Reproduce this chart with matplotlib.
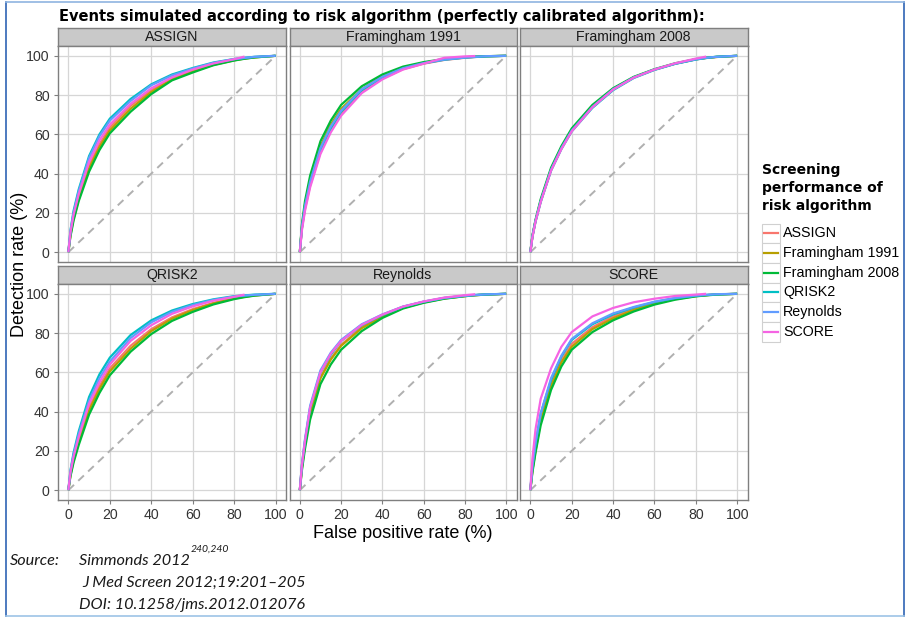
import numpy as np
import matplotlib
matplotlib.use('Agg')
import matplotlib.pyplot as plt
from matplotlib.lines import Line2D
from matplotlib.patches import Rectangle
from matplotlib import transforms

W, H = 907, 617
plt.rcParams['font.family'] = ['Liberation Sans', 'DejaVu Sans']

algorithms = ['ASSIGN', 'Framingham 1991', 'Framingham 2008', 'QRISK2', 'Reynolds', 'SCORE']
colors = ['#F8766D', '#B79F00', '#00BA38', '#00BFC4', '#619CFF', '#F564E3']
nan = np.nan

# false positive rate (%) grid shared by all curves
fpr = [0, 1, 2.5, 5, 10, 15, 20, 30, 40, 50, 60, 70, 80, 85, 90, 100]

# detection rate (%) of each algorithm (rows in legend order), one array per simulating algorithm
assign_tpr = [
    [0, 9, 18, 28, 44, 55, 63.5, 74.5, 82.5, 88.5, 92.5, 95.7, 97.9, 98.7, 99.3, 100],
    [0, 8.5, 17, 27, 42.5, 53.5, 62, 73, 81.5, 88, 92, 95.4, 97.7, 98.6, 99.2, 100],
    [0, 8, 16, 26, 41, 52, 60.5, 71.5, 80.5, 87.5, 91.5, 95.2, 97.6, 98.5, 99.2, 100],
    [0, 11, 21, 32, 49, 60, 68, 78, 85.5, 90.5, 93.8, 96.6, 98.4, 99, 99.5, 100],
    [0, 10.5, 20, 31, 48, 59, 67, 77, 85, 90, 93.5, 96.4, 98.3, 98.9, 99.5, 100],
    [0, 10, 19, 29.5, 46, 57, 65, 75.5, 83.5, 89, 93, 96.1, 98.3, 99.6, nan, nan],
]
fram1991_tpr = [
    [0, 12, 22, 34, 51, 62, 70.5, 81.5, 88.5, 93.2, 96, 97.9, 99, 99.4, 99.7, 100],
    [0, 13, 24, 37, 54, 65, 73, 83, 89.7, 94, 96.5, 98.2, 99.2, 99.5, 99.8, 100],
    [0, 14, 26, 39, 56.5, 67, 75, 84.5, 90.5, 94.5, 96.8, 98.4, 99.3, 99.6, 99.8, 100],
    [0, 12, 23, 35, 52, 63, 71.5, 82.5, 89, 93.5, 96.2, 98, 99.1, 99.4, 99.7, 100],
    [0, 12.5, 23.5, 36, 53, 64, 72, 83, 89.3, 93.7, 96.3, 98.1, 99.1, 99.5, 99.8, 100],
    [0, 11, 21, 33, 50, 61, 69.5, 81, 88, 93, 96, 99, 99.7, 99.9, nan, nan],
]
fram2008_tpr = [
    [0, 8, 16, 26, 42, 53, 62, 74, 83, 89, 93, 96, 98.2, 98.9, 99.4, 100],
    [0, 8, 16, 26, 42, 53, 62, 74, 83, 89, 93, 96, 98.2, 98.9, 99.4, 100],
    [0, 8.5, 16.5, 27, 43, 54, 63, 75, 83.5, 89.3, 93.2, 96.2, 98.3, 99, 99.5, 100],
    [0, 8, 15.5, 25.5, 41.5, 52.5, 61.5, 73.5, 82.5, 88.7, 92.8, 95.9, 98.1, 98.9, 99.5, 100],
    [0, 8, 16, 26, 42, 53, 62, 74, 83, 89, 93, 96, 98.2, 99, 99.5, 100],
    [0, 7.5, 15.5, 25.5, 41.5, 52.5, 61.5, 73.8, 82.8, 88.9, 93, 96.2, 98.6, 99.6, nan, nan],
]
qrisk2_tpr = [
    [0, 8, 16, 25.5, 42, 53, 62, 73.5, 82, 88, 92.2, 95.4, 97.8, 98.6, 99.2, 100],
    [0, 7.5, 15, 24.5, 40.5, 51.5, 60.5, 72, 81, 87.3, 91.7, 95.1, 97.6, 98.5, 99.2, 100],
    [0, 7, 14, 23, 38.5, 49.5, 58.5, 70.5, 79.5, 86.2, 90.8, 94.6, 97.3, 98.3, 99.1, 100],
    [0, 10, 19, 30, 47.5, 59, 67.5, 79, 86.5, 91.5, 94.8, 97.2, 98.8, 99.2, 99.6, 100],
    [0, 9.5, 18, 28.5, 45.5, 57, 65.5, 77.5, 85.5, 90.8, 94.3, 96.9, 98.6, 99.1, 99.5, 100],
    [0, 9, 17, 27, 44, 55, 64, 76, 84, 89.8, 93.6, 96.5, 98.5, 99.6, nan, nan],
]
reynolds_tpr = [
    [0, 11.5, 23.5, 39.5, 57.5, 67, 74, 83, 88.5, 93, 95.7, 97.7, 98.9, 99.3, 99.6, 100],
    [0, 11, 23, 39, 57, 66.5, 73.5, 82.5, 88.2, 92.8, 95.6, 97.6, 98.8, 99.3, 99.6, 100],
    [0, 10, 21, 36, 54, 64, 71.5, 81, 87.7, 92.5, 95.4, 97.5, 98.8, 99.3, 99.6, 100],
    [0, 12.5, 25, 42, 60, 69, 76, 84, 89.2, 93.4, 96, 97.9, 99, 99.4, 99.7, 100],
    [0, 13, 26, 43, 61, 70, 76.5, 84.5, 89.5, 93.5, 96, 97.9, 99, 99.4, 99.7, 100],
    [0, 12.5, 25, 42, 60, 69.5, 76, 84.2, 89.4, 93.5, 96.1, 98.1, 99.3, 99.8, nan, nan],
]
score_tpr = [
    [0, 10, 21, 36, 54, 66, 74.5, 83, 88.5, 92.3, 95.3, 97.5, 98.9, 99.3, 99.7, 100],
    [0, 10, 20, 35, 53, 65, 73, 82, 87.5, 91.8, 95, 97.3, 98.8, 99.3, 99.7, 100],
    [0, 9, 19, 33, 51, 63, 71.5, 80.5, 86.5, 91, 94.5, 97, 98.7, 99.2, 99.6, 100],
    [0, 12, 24, 39, 56, 68, 76.5, 84.5, 89.5, 93, 95.8, 97.8, 99, 99.4, 99.7, 100],
    [0, 12, 24, 39, 57, 68.5, 77, 85, 90, 93.3, 96, 97.9, 99.1, 99.5, 99.8, 100],
    [0, 16, 31, 46.5, 62, 73, 80.5, 88.5, 92.8, 95.7, 97.5, 98.9, 99.6, 100, nan, nan],
]
panel_data = [assign_tpr, fram1991_tpr, fram2008_tpr, qrisk2_tpr, reynolds_tpr, score_tpr]
ticks = [0, 20, 40, 60, 80, 100]

col_x = [(58, 286), (289.5, 516.5), (520, 747.5)]
row_strip = [(27.5, 46), (266, 284)]
row_panel = [(46, 262), (284, 500)]


def rect(x0, y0, x1, y1):
    return [x0 / W, 1 - y1 / H, (x1 - x0) / W, (y1 - y0) / H]


def draw_panel(fig, i):
    r, c = divmod(i, 3)
    x0, x1 = col_x[c]

    sax = fig.add_axes(rect(x0, row_strip[r][0], x1, row_strip[r][1]))
    sax.set_facecolor('#c9c9c9')
    sax.set_xticks([])
    sax.set_yticks([])
    for s in sax.spines.values():
        s.set_color('#7f7f7f')
        s.set_linewidth(1.0)
    sax.text(0.5, 0.48, algorithms[i], ha='center', va='center',
             fontsize=10.2, color='#1a1a1a', transform=sax.transAxes)

    ax = fig.add_axes(rect(x0, row_panel[r][0], x1, row_panel[r][1]))
    ax.set_xlim(-5, 105)
    ax.set_ylim(-5, 105)
    ax.set_xticks(ticks)
    ax.set_yticks(ticks)
    ax.grid(True, color='#d6d6d6', linewidth=0.9)
    ax.set_axisbelow(True)
    for s in ax.spines.values():
        s.set_color('#7f7f7f')
        s.set_linewidth(1.0)
    ax.tick_params(colors='#7f7f7f', length=3, width=0.8, labelsize=10.2,
                   labelcolor='#333333', pad=3)
    if c != 0:
        ax.tick_params(left=False, labelleft=False)
    if r != 1:
        ax.tick_params(bottom=False, labelbottom=False)

    ax.plot([0, 100], [0, 100], color='#b0b0b0', linewidth=1.4,
            dashes=(4, 3), zorder=2)
    for k, tpr in enumerate(panel_data[i]):
        ax.plot(fpr, tpr, color=colors[k], linewidth=1.6, zorder=3,
                solid_capstyle='butt', solid_joinstyle='round')


def draw_legend(fig):
    lax = fig.add_axes([0, 0, 1, 1], zorder=5)
    lax.set_xlim(0, W)
    lax.set_ylim(H, 0)
    lax.axis('off')
    lax.text(762, 163, 'Screening\nperformance of\nrisk algorithm',
             fontsize=10, fontweight='bold', family='DejaVu Sans',
             va='top', ha='left', linespacing=1.38)
    top, step = 223.5, 19.7
    for k, name in enumerate(algorithms):
        y = top + k * step
        lax.add_patch(Rectangle((762, y), 17.5, step, facecolor='white',
                                edgecolor='#d0d0d0', linewidth=0.8))
        lax.add_line(Line2D([764, 777.5], [y + step / 2, y + step / 2],
                            color=colors[k], linewidth=1.6))
        lax.text(783, y + step / 2, name, fontsize=10.3, va='center', ha='left')
    return lax


def main() -> None:
    fig = plt.figure(figsize=(W / 100, H / 100), dpi=100)
    for i in range(6):
        draw_panel(fig, i)
    lax = draw_legend(fig)

    lax.text(59, 16, 'Events simulated according to risk algorithm '
             '(perfectly calibrated algorithm):', fontsize=10.5,
             fontweight='bold', family='DejaVu Sans', va='center', ha='left')
    lax.text(20, 264, 'Detection rate (%)', fontsize=13, rotation=90,
             va='center', ha='center')
    lax.text(403, 533, 'False positive rate (%)', fontsize=13,
             va='center', ha='center')

    src = dict(fontsize=11.7, style='italic', family=['Lato', 'DejaVu Sans'],
               va='center', ha='left', color='#1a1a1a')
    lax.text(10, 561, 'Source:', **src)
    t = lax.text(79, 561, 'Simmonds 2012', **src)
    lax.text(82, 583, 'J Med Screen 2012;19:201\u2013205', **src)
    lax.text(79, 605, 'DOI: 10.1258/jms.2012.012076', **src)
    fig.canvas.draw()
    bb = t.get_window_extent()
    sup_tr = transforms.blended_transform_factory(
        transforms.IdentityTransform(), lax.transData)
    lax.text(bb.x1 + 0.5, 549, '240,240', fontsize=7.5, style='italic',
             family=['Lato', 'DejaVu Sans'], va='center', ha='left',
             color='#1a1a1a', transform=sup_tr)

    # blue frame around the figure
    lax.add_line(Line2D([6, 6], [2, 616], color='#2f64b4', linewidth=1.2))
    lax.add_line(Line2D([904, 904], [2, 616], color='#2f64b4', linewidth=1.2))
    lax.add_line(Line2D([6, 904], [2, 2], color='#8fb4e0', linewidth=1.2))
    lax.add_line(Line2D([6, 904], [616, 616], color='#9dc3e6', linewidth=1.2))

    fig.savefig('out.png', dpi=100)


if __name__ == "__main__":
    main()
